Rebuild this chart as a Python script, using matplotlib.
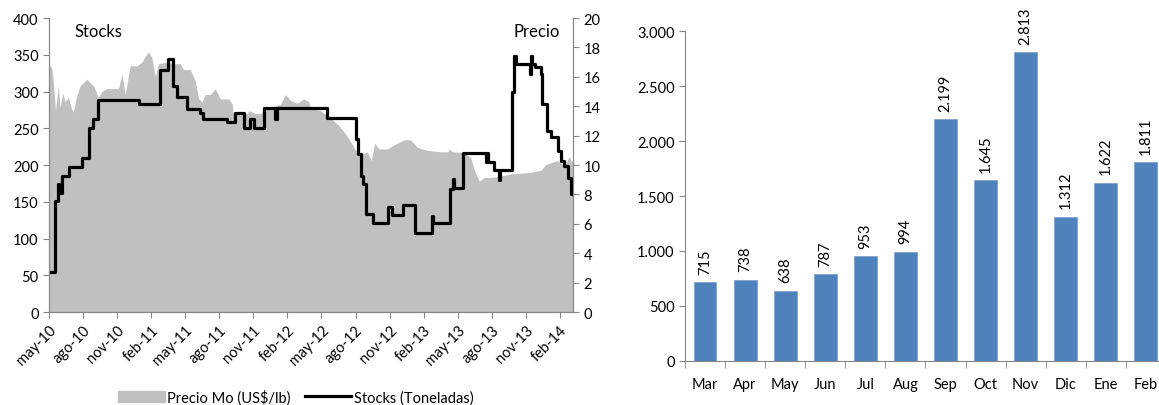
import matplotlib
matplotlib.use("Agg")
import matplotlib.pyplot as plt
from matplotlib.patches import Patch
from matplotlib.lines import Line2D

plt.rcParams['font.family'] = ['Lato', 'DejaVu Sans']

# months counted from may-2010
price_month = [0.00, 0.24, 0.38, 0.57, 0.82, 0.97, 1.21, 1.41, 1.70, 2.00, 2.14, 2.44, 2.74, 3.03,
               3.33, 3.62, 3.91, 4.35, 4.65, 5.09, 5.68, 6.12, 6.42, 6.71, 7.15, 7.74, 8.18, 8.47,
               8.76, 9.06, 9.36, 9.65, 10.39, 10.94, 11.56, 11.83, 12.44, 12.89, 13.18, 13.48,
               13.77, 14.21, 14.65, 15.09, 15.83, 16.13, 16.24, 16.86, 17.48, 17.59, 18.18, 18.62,
               19.21, 19.80, 20.39, 20.83, 21.27, 21.86, 22.45, 22.89, 23.04, 23.92, 24.80, 25.53,
               26.13, 26.72, 27.01, 27.60, 28.04, 28.39, 28.68, 29.06, 29.81, 30.69, 31.42, 31.86,
               32.45, 33.34, 34.51, 35.13, 35.24, 35.54, 36.57, 37.16, 37.45, 37.89, 38.33, 39.52,
               40.69, 42.45, 43.34, 43.78, 44.81, 45.39, 45.83, 45.98, 46.16]
price_usd = [16.8, 16.6, 15.7, 13.7, 15.4, 13.9, 14.9, 14.3, 14.6, 13.8, 13.6, 14.7, 15.4, 15.6,
             15.85, 15.6, 15.4, 14.6, 15.0, 15.2, 15.2, 15.2, 16.2, 14.8, 16.75, 16.75, 17.0, 17.4,
             17.7, 17.3, 16.0, 16.9, 17.0, 16.9, 16.9, 16.5, 16.5, 15.7, 14.5, 14.3,
             14.8, 14.8, 15.2, 14.5, 14.5, 14.15, 13.5, 13.5, 13.5, 13.7, 13.5, 13.5,
             13.8, 14.0, 14.15, 14.8, 14.4, 14.2, 14.5, 14.3, 13.9, 13.7, 13.2, 12.7,
             12.1, 11.4, 11.0, 10.75, 10.9, 10.3, 11.5, 11.1, 11.1, 11.5, 11.75, 11.7,
             11.2, 11.0, 10.9, 10.9, 11.1, 10.9, 10.85, 10.5, 9.7, 8.9, 9.15, 9.2,
             9.4, 9.5, 9.65, 10.05, 10.3, 9.95, 10.6, 10.3, 10.2]

stock_month = [0.00, 0.53, 0.80, 0.90, 1.10, 1.79, 2.90, 3.56, 3.86, 4.35, 7.94, 9.74, 10.48,
               10.95, 11.27, 12.15, 13.30, 13.60, 15.70, 16.40, 17.20, 17.70, 18.10, 18.90,
               19.95, 20.05, 24.45, 27.00, 27.20, 27.45, 27.70, 27.90, 28.50, 29.90, 30.20,
               31.20, 32.20, 33.75, 33.85, 35.30, 35.60, 35.70, 36.50, 38.50, 38.60, 38.70,
               39.20, 39.60, 39.70, 40.80, 41.00, 41.10, 42.35, 42.45, 42.55, 42.85, 43.30,
               43.45, 43.85, 44.25, 44.80, 45.10, 45.40, 45.70, 46.00, 46.16]
stock_ton = [54, 151, 174, 162, 185, 198, 209, 251, 262, 288, 283, 330, 344,
             308, 293, 276, 271, 263, 258, 271, 251, 263, 251, 277,
             263, 277, 264, 235, 215, 185, 174, 133, 121, 143, 132,
             145, 108, 131, 121, 167, 181, 169, 217, 204, 217, 204,
             193, 180, 193, 299, 349, 337, 324, 349, 337, 333, 324,
             283, 247, 238, 219, 206, 199, 183, 160, 160]

date_ticks = ['may-10', 'ago-10', 'nov-10', 'feb-11', 'may-11', 'ago-11', 'nov-11', 'feb-12',
              'may-12', 'ago-12', 'nov-12', 'feb-13', 'may-13', 'ago-13', 'nov-13', 'feb-14']

bar_months = ['Mar', 'Apr', 'May', 'Jun', 'Jul', 'Aug', 'Sep', 'Oct', 'Nov', 'Dic', 'Ene', 'Feb']
bar_values = [715, 738, 638, 787, 953, 994, 2199, 1645, 2813, 1312, 1622, 1811]

axis_grey = '#868686'
fs = 10.5

fig = plt.figure(figsize=(11.59, 4.06), dpi=100)

# ---- left chart: stocks vs price ----
ax1 = fig.add_axes([0.0423, 0.229, 0.4521, 0.724])
ax2 = ax1.twinx()
ax2.fill_between(price_month, 0, price_usd, color='#C0C0C0', linewidth=0)
ax1.plot(stock_month, stock_ton, color='black', linewidth=2.3, drawstyle='steps-post')
ax1.set_zorder(ax2.get_zorder() + 1)
ax1.patch.set_visible(False)

ax1.set_xlim(0, price_month[-1])
ax1.set_ylim(0, 400)
ax2.set_ylim(0, 20)
ax1.set_yticks(range(0, 401, 50))
ax2.set_yticks(range(0, 21, 2))
ax1.set_xticks(range(0, 3 * len(date_ticks), 3))
ax1.set_xticklabels(date_ticks, rotation=45, ha='right', rotation_mode='anchor')

for a in (ax1, ax2):
    a.spines['top'].set_visible(False)
    for s in ('left', 'right', 'bottom'):
        a.spines[s].set_color(axis_grey)
    a.tick_params(colors=axis_grey, labelcolor='black', labelsize=fs, length=4)

ax1.text(0.048, 0.955, 'Stocks', transform=ax1.transAxes, fontsize=fs + 1.5, va='center')
ax1.text(0.975, 0.955, 'Precio', transform=ax1.transAxes, fontsize=fs + 1.5, va='center', ha='right')

handles = [Patch(color='#C0C0C0'), Line2D([0], [0], color='black', linewidth=2.3)]
fig.legend(handles, ['Precio Mo (US$/lb)', 'Stocks (Toneladas)'], loc='center',
           bbox_to_anchor=(0.255, 0.02), ncol=2, frameon=False, fontsize=fs,
           handlelength=3.2, handletextpad=0.15, columnspacing=1.0)

# ---- right chart: monthly bars ----
ax3 = fig.add_axes([0.591, 0.109, 0.415, 0.811])
xs = range(len(bar_months))
bars = ax3.bar(xs, bar_values, width=0.57, color='#4F81BD', edgecolor='#7FA3D0', linewidth=0.6)
for x, v in zip(xs, bar_values):
    ax3.annotate(f"{v:,}".replace(',', '.'), (x, v), xytext=(0, 6), textcoords='offset points',
                 rotation=90, ha='center', va='bottom', fontsize=fs)

ax3.set_xlim(-0.5, len(bar_months) - 0.5)
ax3.set_ylim(0, 3000)
ax3.set_yticks(range(0, 3001, 500))
ax3.set_yticklabels([f"{v:,}".replace(',', '.') for v in range(0, 3001, 500)])
ax3.set_xticks(xs)
ax3.set_xticklabels(bar_months)
ax3.set_xticks([i - 0.5 for i in range(len(bar_months) + 1)], minor=True)
ax3.tick_params(axis='x', which='major', length=0, pad=12)
ax3.tick_params(axis='x', which='minor', length=5, color=axis_grey)
ax3.tick_params(axis='y', length=4, color=axis_grey)
ax3.tick_params(labelsize=fs)
for s in ('top', 'right'):
    ax3.spines[s].set_visible(False)
for s in ('left', 'bottom'):
    ax3.spines[s].set_color(axis_grey)

fig.savefig('out.png', dpi=100)
